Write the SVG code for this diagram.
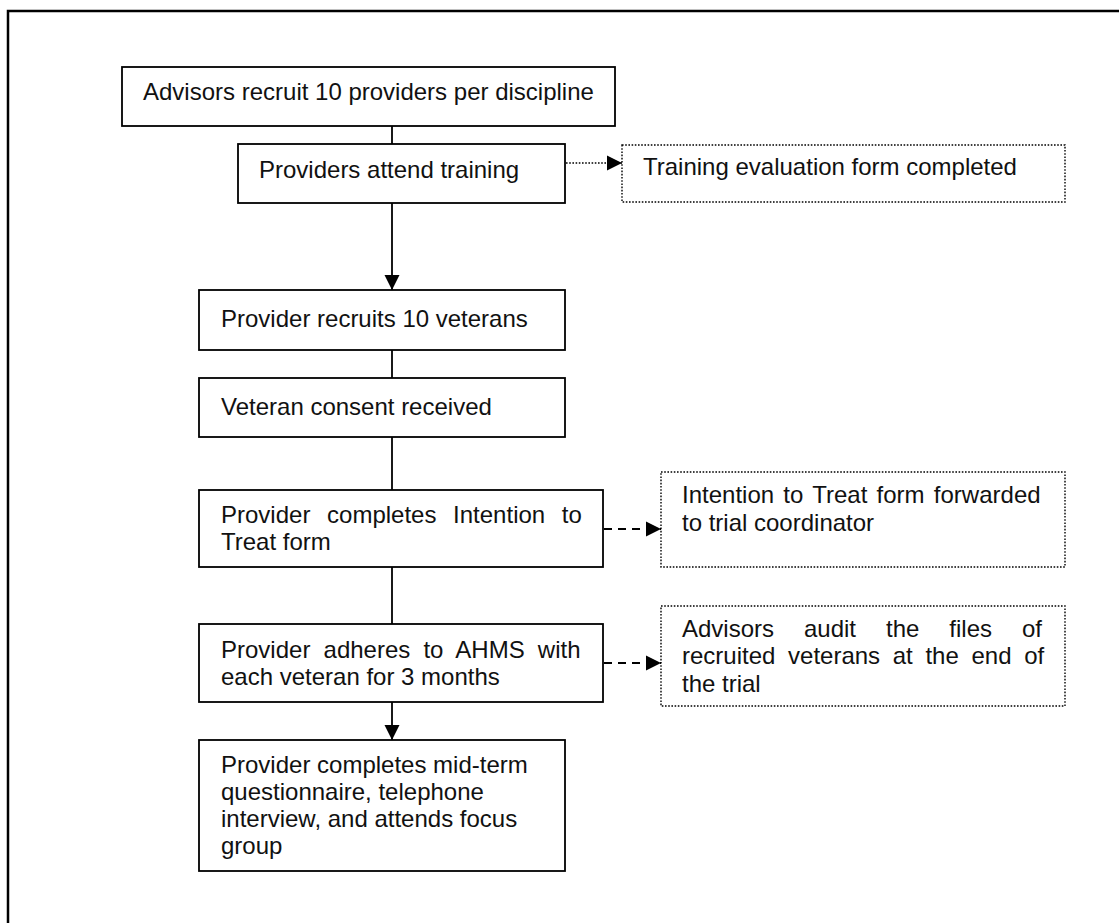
<svg xmlns="http://www.w3.org/2000/svg" width="1119" height="923" viewBox="0 0 1119 923">
  <style>
    .box { fill: #fff; stroke: #000; stroke-width: 1.8; }
    .note { fill: #fff; stroke: #000; stroke-width: 1.4; stroke-dasharray: 1.6 1.6; }
    .t { font-family: "Liberation Sans", Arial, sans-serif; font-size: 24px; fill: #111; }
    .link { stroke: #000; stroke-width: 1.8; fill: none; }
    .dash { stroke: #000; stroke-width: 1.8; fill: none; stroke-dasharray: 8 6; }
    .dot { stroke: #000; stroke-width: 1.6; fill: none; stroke-dasharray: 1.6 1.6; }
  </style>
  <defs>
    <marker id="head" markerWidth="16" markerHeight="16" refX="15" refY="8" orient="auto" markerUnits="userSpaceOnUse">
      <path d="M0,0.5 L15,8 L0,15.5 Z" fill="#000"/>
    </marker>
  </defs>

  <rect width="1119" height="923" fill="#fff"/>
  <!-- outer frame (open to the right and bottom) -->
  <path d="M8,923 L8,11 L1119,11" fill="none" stroke="#000" stroke-width="2.5"/>

  <g id="connectors">
    <line class="link" x1="392" y1="126" x2="392" y2="144"/>
    <line class="link" x1="392" y1="203" x2="392" y2="290" marker-end="url(#head)"/>
    <line class="link" x1="392" y1="350" x2="392" y2="378"/>
    <line class="link" x1="392" y1="437" x2="392" y2="490"/>
    <line class="link" x1="392" y1="567" x2="392" y2="624"/>
    <line class="link" x1="392" y1="702" x2="392" y2="740" marker-end="url(#head)"/>
    <line class="dot" x1="566" y1="163" x2="622" y2="163" marker-end="url(#head)"/>
    <line class="dash" x1="604" y1="529" x2="661" y2="529" marker-end="url(#head)"/>
    <line class="dash" x1="604" y1="663" x2="661" y2="663" marker-end="url(#head)"/>
  </g>

  <g id="recruit-providers">
    <rect class="box" x="122" y="67" width="493" height="59"/>
    <text class="t" x="143" y="100">Advisors recruit 10 providers per discipline</text>
  </g>

  <g id="attend-training">
    <rect class="box" x="238" y="144" width="327" height="59"/>
    <text class="t" x="259" y="178">Providers attend training</text>
  </g>

  <g id="training-evaluation">
    <rect class="note" x="622" y="145" width="443" height="57"/>
    <text class="t" x="643" y="175">Training evaluation form completed</text>
  </g>

  <g id="recruit-veterans">
    <rect class="box" x="199" y="290" width="366" height="60"/>
    <text class="t" x="221" y="327">Provider recruits 10 veterans</text>
  </g>

  <g id="veteran-consent">
    <rect class="box" x="199" y="378" width="366" height="59"/>
    <text class="t" x="221" y="415">Veteran consent received</text>
  </g>

  <g id="intention-to-treat">
    <rect class="box" x="199" y="490" width="404" height="77"/>
    <text class="t" x="221" y="523" word-spacing="10">Provider completes Intention to</text>
    <text class="t" x="221" y="550">Treat form</text>
  </g>

  <g id="itt-forwarded">
    <rect class="note" x="661" y="472" width="404" height="95"/>
    <text class="t" x="682" y="503" word-spacing="2.6">Intention to Treat form forwarded</text>
    <text class="t" x="682" y="531">to trial coordinator</text>
  </g>

  <g id="adhere-ahms">
    <rect class="box" x="199" y="624" width="404" height="78"/>
    <text class="t" x="221" y="658" word-spacing="6.5">Provider adheres to AHMS with</text>
    <text class="t" x="221" y="685">each veteran for 3 months</text>
  </g>

  <g id="audit-files">
    <rect class="note" x="661" y="606" width="404" height="100"/>
    <text class="t" x="682" y="637" word-spacing="23.3">Advisors audit the files of</text>
    <text class="t" x="682" y="664" word-spacing="6">recruited veterans at the end of</text>
    <text class="t" x="682" y="692">the trial</text>
  </g>

  <g id="mid-term">
    <rect class="box" x="199" y="740" width="366" height="131"/>
    <text class="t" x="221" y="773">Provider completes mid-term</text>
    <text class="t" x="221" y="800">questionnaire, telephone</text>
    <text class="t" x="221" y="827">interview, and attends focus</text>
    <text class="t" x="221" y="854">group</text>
  </g>
</svg>
